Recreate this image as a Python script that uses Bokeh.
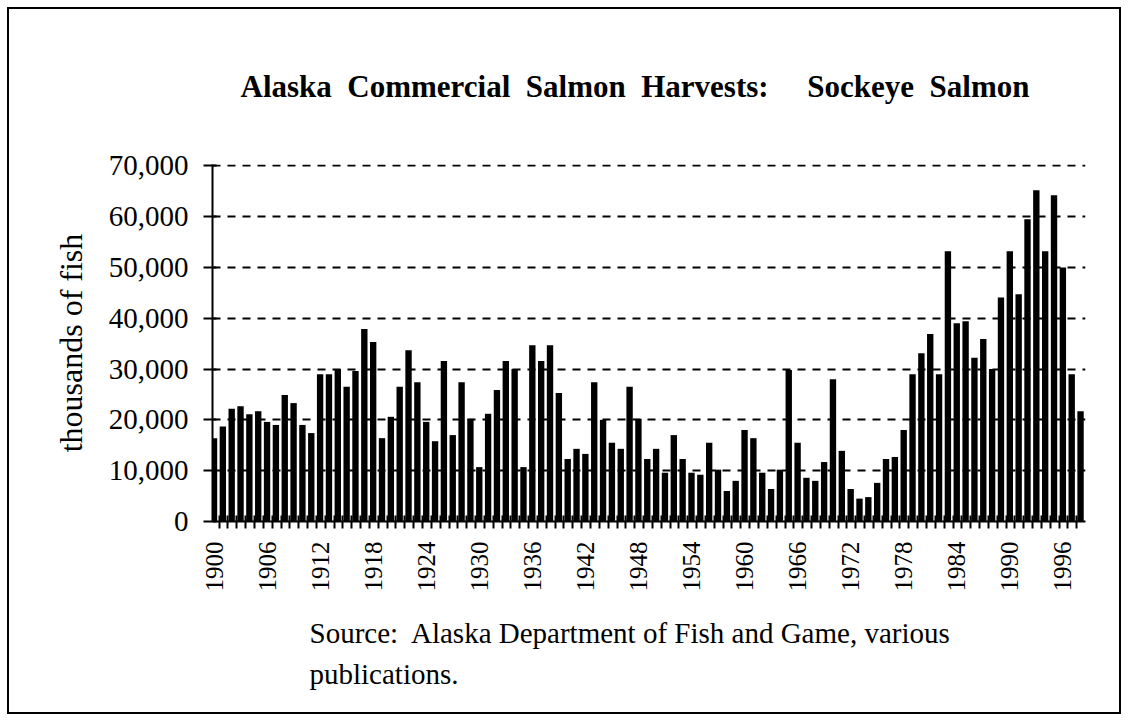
import math
from bokeh.plotting import figure
from bokeh.models import ColumnDataSource, Range1d, FixedTicker, NumeralTickFormatter, Title
from bokeh.embed import file_html
from bokeh.resources import INLINE

# ---- data (thousands of fish) ----
years = list(range(1900, 1999))
harvest = [
    16400, 18700, 22200, 22700, 21100, 21700, 19600, 19000, 24900, 23300,   # 1900-1909
    19000, 17400, 29000, 29000, 30000, 26500, 29600, 37900, 35300, 16400,   # 1910-1919
    20600, 26500, 33700, 27400, 19600, 15800, 31600, 17000, 27400, 20200,   # 1920-1929
    10700, 21200, 25900, 31600, 30000, 10700, 34700, 31600, 34700, 25300,   # 1930-1939
    12300, 14300, 13300, 27400, 20000, 15500, 14300, 26500, 20200, 12300,   # 1940-1949
    14300, 9600, 17000, 12300, 9600, 9200, 15500, 10200, 6000, 8000,        # 1950-1959
    18000, 16400, 9600, 6400, 10200, 29800, 15500, 8600, 8000, 11700,       # 1960-1969
    28000, 13900, 6400, 4500, 4800, 7600, 12300, 12700, 18000, 29000,       # 1970-1979
    33100, 36900, 29000, 53200, 39000, 39400, 32200, 35900, 30000, 44100,   # 1980-1989
    53200, 44700, 59500, 65200, 53200, 64200, 50000, 29000, 21700,          # 1990-1998
]
tick_years = list(range(1900, 1997, 6))
y_ticks = list(range(0, 70001, 10000))

NB = "\u00a0"
title_text = f"Alaska{NB} Commercial{NB} Salmon{NB} Harvests:{NB}{NB}{NB}{NB} Sockeye{NB} Salmon"
y_label_text = "thousands of fish"
source_line1 = f"Source:{NB} Alaska Department of Fish and Game, various"
source_line2 = "publications."

FONT = "Liberation Serif"

src = ColumnDataSource(data=dict(year=years, harvest=harvest))

p = figure(
    width=1128, height=721,
    output_backend="svg", toolbar_location=None,
    x_range=Range1d(1899.83, 1998.56), y_range=Range1d(0, 70250),
    min_border_left=212, min_border_right=43,
    min_border_top=164, min_border_bottom=200,
)
p.outline_line_color = None
p.background_fill_color = "white"
p.border_fill_color = None
# thin frame around the whole picture (shows through the transparent border area)
p.styles = {"outline": "2px solid black", "outline-offset": "-9px",
            "background-color": "white"}

p.vbar(x="year", top="harvest", width=0.72, source=src,
       fill_color="black", line_color=None)

# grid
p.xgrid.grid_line_color = None
p.ygrid.grid_line_color = "black"
p.ygrid.grid_line_width = 2.2
p.ygrid.grid_line_dash = "8 7"
p.ygrid.ticker = FixedTicker(ticks=y_ticks)

# x axis
xa = p.xaxis[0]
xa.ticker = FixedTicker(ticks=tick_years, minor_ticks=[y - 0.42 for y in years])
xa.major_label_orientation = math.pi / 2
xa.major_label_text_font = FONT
xa.major_label_text_font_size = "25px"
xa.major_label_text_color = "black"
xa.major_label_standoff = 13
xa.major_tick_in = 0
xa.major_tick_out = 0
xa.minor_tick_in = 6
xa.minor_tick_out = 7
xa.minor_tick_line_width = 2
xa.minor_tick_line_color = "black"
xa.axis_line_width = 2
xa.axis_line_color = "black"

# y axis
ya = p.yaxis[0]
ya.ticker = FixedTicker(ticks=y_ticks)
ya.formatter = NumeralTickFormatter(format="0,0")
ya.major_label_text_font = FONT
ya.major_label_text_font_size = "29px"
ya.major_label_text_color = "black"
ya.major_label_standoff = 15
ya.major_tick_in = 4
ya.major_tick_out = 9
ya.major_tick_line_width = 2
ya.major_tick_line_color = "black"
ya.minor_tick_line_color = None
ya.axis_line_width = 2
ya.axis_line_color = "black"
ya.axis_label = y_label_text
ya.axis_label_text_font = FONT
ya.axis_label_text_font_size = "32px"
ya.axis_label_text_font_style = "normal"
ya.axis_label_text_color = "black"
ya.axis_label_standoff = 17

# title
p.title.text = title_text
p.title.align = "left"
p.title.offset = 28
p.title.text_font = FONT
p.title.text_font_size = "31px"
p.title.text_font_style = "bold"
p.title.text_color = "black"
p.title.standoff = 122

# source lines below the x axis
p.add_layout(Title(text=source_line1, align="left", offset=97, text_font=FONT,
                   text_font_size="29px", text_font_style="normal",
                   text_color="black", standoff=40), "below")
p.add_layout(Title(text=source_line2, align="left", offset=97, text_font=FONT,
                   text_font_size="29px", text_font_style="normal",
                   text_color="black", standoff=-26), "below")

open("out.html", "w").write(file_html(p, INLINE))
